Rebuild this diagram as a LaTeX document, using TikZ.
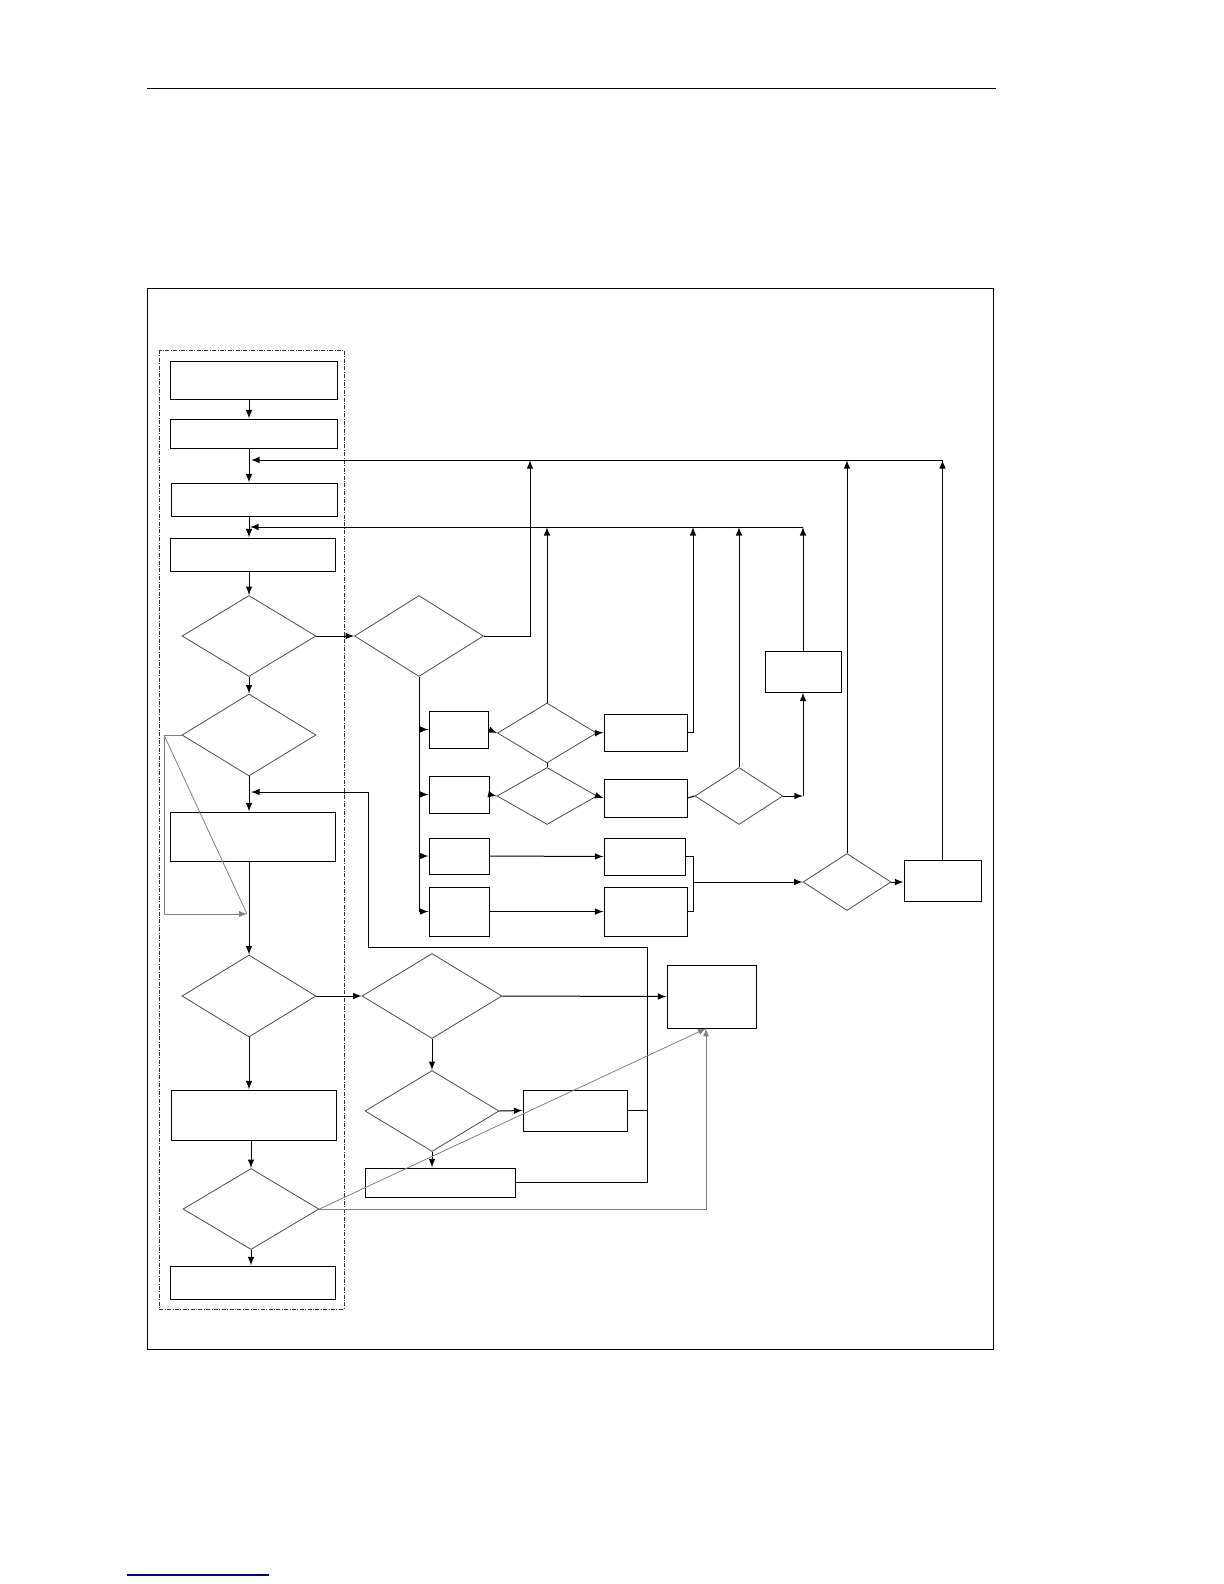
\documentclass[tikz,border=0pt]{standalone}
\usetikzlibrary{arrows}
\usetikzlibrary{shapes.geometric}

\begin{document}
\begin{tikzpicture}[x=0.5bp,y=-0.5bp,line width=0.5bp,
  box/.style 2 args={draw,rectangle,inner sep=0pt,minimum width=#1*0.5bp,minimum height=#2*0.5bp},
  dec/.style 2 args={draw=black!70,line width=0.4bp,diamond,inner sep=0pt,minimum width=#1*0.5bp,minimum height=#2*0.5bp},
  arr/.style={-latex},
  grayline/.style={draw=black!50,line width=0.4bp}]
\useasboundingbox (0,0) rectangle (1224,1584);

% page rule, frame and footer
\draw (147,88) -- (996,88);
\draw (147,288) rectangle (993,1349);
\draw [black!80,line width=0.4bp,dash pattern=on 2bp off 0.7bp on 0.5bp off 0.7bp] (159,350) rectangle (344,1309);
\draw [blue!60!black,line width=0.8bp] (127,1575) -- (269,1575);

% left column
\node[box={167}{38}] (s1) at (253.5,380) {};
\node[box={167}{29}] (s2) at (253.5,433.5) {};
\node[box={166}{33}] (s3) at (254,499.5) {};
\node[box={165}{33}] (s4) at (252.5,554.5) {};
\node[dec={134}{81}] (q1) at (249,636) {};
\node[dec={134}{82}] (q3) at (249,735) {};
\node[box={165}{49}] (s5) at (252.5,836.5) {};
\node[dec={134}{82}] (q5) at (249,996) {};
\node[box={165}{50}] (s6) at (253.5,1115) {};
\node[dec={136}{81}] (q8) at (251,1209) {};
\node[box={165}{33}] (s7) at (252.5,1282.5) {};

% right of q1
\node[dec={129}{81}] (q2) at (419,636) {};
\node[box={59}{37}] (b1) at (458.5,729.5) {};
\node[box={60}{37}] (b2) at (459,794.5) {};
\node[box={60}{36}] (b3) at (459,856) {};
\node[box={60}{49}] (b4) at (459,911.5) {};
\node[dec={99}{60}] (qa) at (547,733) {};
\node[dec={100}{57}] (qb) at (547,796) {};
\node[box={83}{37}] (c1) at (645.5,732.5) {};
\node[box={83}{38}] (c2) at (645.5,798) {};
\node[box={81}{37}] (c3) at (644.5,856.5) {};
\node[box={83}{49}] (c4) at (645.5,911.5) {};
\node[dec={88}{57}] (qc) at (739,796) {};
\node[box={76}{41}] (k) at (803,671.5) {};
\node[dec={88}{57}] (qe) at (847,882) {};
\node[box={77}{41}] (l) at (942.5,880.5) {};

% right of q5
\node[dec={140}{85}] (q6) at (432,996) {};
\node[dec={134}{81}] (q7) at (432,1111) {};
\node[box={104}{41}] (t1) at (575,1110.5) {};
\node[box={150}{29}] (t2) at (440,1182.5) {};
\node[box={89}{63}] (r) at (711.5,996.5) {};

\coordinate (fb1) at (251,460);
\coordinate (fb2) at (250,527);
\coordinate (fb3) at (251,792);
\coordinate (fb4) at (247,914);
\coordinate (up1) at (530,460);
\coordinate (up2) at (693,527);
\coordinate (brk) at (693,882);
\coordinate (j1) at (647,947);
\coordinate (j2) at (368,947);
\coordinate (g1) at (164,735);
\coordinate (g2) at (164,914);
\coordinate (g3) at (706,1209);

% main line
\draw [arr] (s1.south -| q1) -- (s2.north -| q1);
\draw [arr] (s2.south -| q1) -- (s3.north -| q1);
\draw [arr] (s3.south -| q1) -- (s4.north -| q1);
\draw [arr] (s4.south -| q1) -- (q1.north);
\draw [arr] (q1.south) -- (q3.north);
\draw [arr] (q3.south) -- (s5.north -| q3);
\draw [arr] (s5.south -| q1) -- (q5.north);
\draw [arr] (q5.south) -- (s6.north -| q5);
\draw [arr] (s6.south -| q8) -- (q8.north);
\draw [arr] (q8.south) -- (s7.north -| q8);

% upper branch
\draw [arr] (q1.east) -- (q2.west);
\draw [arr] (q2.east) -| (up1);
\draw (q2.south) -- (q2.south |- b4);
\foreach \b in {b1,b2,b3,b4}
  \draw [arr] (q2.south |- \b) -- (\b.west);
\draw [arr] (b1.east) -- (qa.west);
\draw [arr] (b2.east) -- (qb.west);
\draw (qa.south) -- (qb.north);
\draw [arr] (qa.east) -- (c1.west);
\draw [arr] (qb.east) -- (c2.west);
\draw (c2.east) -- (qc.west);
\draw [arr] (b3.east) -- (c3.west);
\draw [arr] (b4.east) -- (c4.west);
\draw (c3.east) -| (brk);
\draw (c4.east) -| (brk);
\draw [arr] (brk) -- (qe.west);
\draw [arr] (qe.east) -- (qe.east -| l.west);

% returns
\draw [arr] (l.north) -- (l.north |- fb1);
\draw [arr] (l.north |- fb1) -- (fb1);
\draw [arr] (qe.north) -- (qe.north |- fb1);
\draw [arr] (k.north) -- (k.north |- fb2);
\draw [arr] (k.north |- fb2) -- (fb2);
\draw [arr] (qa.north) -- (qa.north |- fb2);
\draw [arr] (c1.east) -| (up2);
\draw [arr] (qc.north) -- (qc.north |- fb2);
\draw [arr] (qc.east) -- (k.south |- qc.east);
\draw [arr] (k.south |- qc.east) -- (k.south);

% lower branch
\draw [arr] (q5.east) -- (q6.west);
\draw [arr] (q6.east) -- (r.west);
\draw [arr] (q6.south) -- (q7.north);
\draw [arr] (q7.east) -- (t1.west);
\draw [arr] (q7.south) -- (t2.north -| q7);
\draw (t1.east) -- (t1.east -| j1);
\draw [arr] (t2.east) -| (j1) -- (j2) -- (j2 |- fb3) -- (fb3);

% skip lines
\draw [grayline] (q3.west) -- (g1) -- (g2);
\draw [grayline,arr] (g2) -- (fb4);
\draw [grayline] (g1) -- (fb4);
\draw [grayline,arr] (q8.east) -- (g3) -- (g3 |- r.south);
\draw [grayline,arr] (q8.east) -- (g3 |- r.south);
\end{tikzpicture}
\end{document}
